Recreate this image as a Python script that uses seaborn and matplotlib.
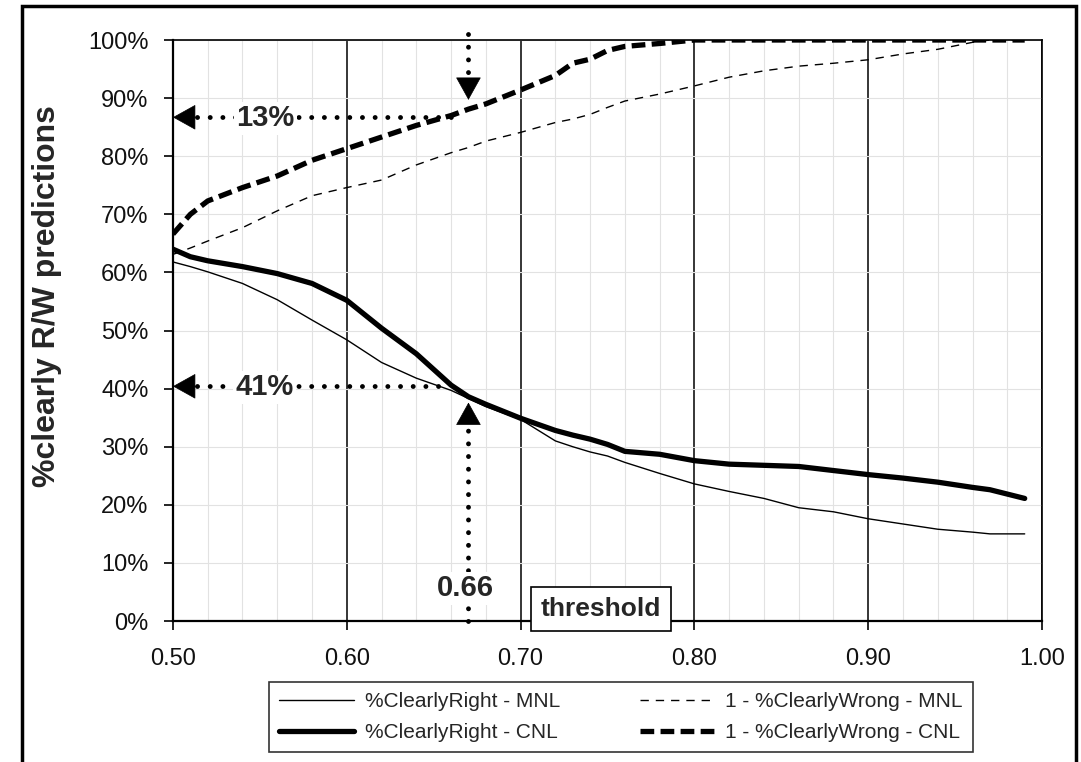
import numpy as np
import pandas as pd
import seaborn as sns
from matplotlib import pyplot as plt
from matplotlib.patches import Rectangle
from matplotlib.ticker import PercentFormatter, FormatStrFormatter

# ----- data -----
thresholds = [0.50, 0.51, 0.52, 0.54, 0.56, 0.58, 0.60, 0.62, 0.64, 0.66,
              0.67, 0.68, 0.70, 0.72, 0.73, 0.74, 0.75, 0.76, 0.78, 0.80,
              0.82, 0.84, 0.86, 0.88, 0.90, 0.92, 0.94, 0.96, 0.97, 0.99]

right_mnl = [61.8, 61.0, 60.1, 58.1, 55.3, 51.8, 48.4, 44.5, 41.8, 39.7,
             38.3, 36.9, 34.7, 31.0, 30.0, 29.1, 28.4, 27.3, 25.4, 23.6,
             22.3, 21.1, 19.5, 18.8, 17.6, 16.7, 15.8, 15.3, 15.0, 15.0]

right_cnl = [64.0, 62.7, 62.0, 61.0, 59.8, 58.1, 55.2, 50.4, 46.0, 40.6,
             38.6, 37.3, 34.9, 32.8, 32.0, 31.3, 30.4, 29.2, 28.7, 27.6,
             27.0, 26.8, 26.6, 25.9, 25.2, 24.6, 23.9, 23.0, 22.6, 21.1]

wrong_mnl = [63.1, 64.2, 65.4, 67.7, 70.6, 73.2, 74.6, 75.9, 78.5, 80.6,
             81.5, 82.6, 84.1, 85.8, 86.4, 87.2, 88.4, 89.5, 90.7, 92.1,
             93.6, 94.7, 95.5, 96.0, 96.6, 97.6, 98.4, 99.6, 100.0, 100.0]

wrong_cnl = [66.6, 70.0, 72.3, 74.6, 76.6, 79.3, 81.3, 83.3, 85.3, 87.0,
             88.1, 89.0, 91.4, 93.9, 96.0, 96.7, 98.2, 98.9, 99.4, 100.0,
             100.0, 100.0, 100.0, 100.0, 100.0, 100.0, 100.0, 100.0, 100.0, 100.0]

labels = ['%ClearlyRight - MNL', '1 - %ClearlyWrong - MNL',
          '%ClearlyRight - CNL', '1 - %ClearlyWrong - CNL']

df = pd.DataFrame({'thr': thresholds, 'rm': right_mnl, 'rc': right_cnl,
                   'wm': wrong_mnl, 'wc': wrong_cnl})

# ----- style -----
sns.set_style('white')
plt.rcParams['font.family'] = ['Liberation Sans', 'DejaVu Sans']

fig = plt.figure(figsize=(10.81, 7.62), dpi=100)
ax = fig.add_axes([0.160, 0.185, 0.804, 0.7625])

# outer frame of the chart
fig.add_artist(Rectangle((0.0204, -0.1), 0.975, 1.092, transform=fig.transFigure,
                         fill=False, lw=2.5, ec='black'))

# ----- lines -----
sns.lineplot(data=df, x='thr', y='rm', ax=ax, color='black', lw=1.0, label=labels[0])
sns.lineplot(data=df, x='thr', y='rc', ax=ax, color='black', lw=3.8, label=labels[2])
sns.lineplot(data=df, x='thr', y='wm', ax=ax, color='black', lw=1.0,
             linestyle=(0, (6, 5)), label=labels[1])
sns.lineplot(data=df, x='thr', y='wc', ax=ax, color='black', lw=3.8,
             linestyle=(0, (2.6, 1.2)), label=labels[3])

ax.set_xlim(0.5, 1.0)
ax.set_ylim(0, 100)
ax.set_xticks(np.arange(0.5, 1.001, 0.1))
ax.set_xticks(np.arange(0.5, 1.001, 0.02), minor=True)
ax.set_yticks(np.arange(0, 101, 10))
ax.xaxis.set_major_formatter(FormatStrFormatter('%.2f'))
ax.yaxis.set_major_formatter(PercentFormatter(100, decimals=0))

ax.grid(which='minor', axis='x', color='#e2e2e2', lw=0.8)
ax.grid(which='major', axis='y', color='#e2e2e2', lw=0.8)
ax.grid(which='major', axis='x', color='black', lw=1.1)
ax.set_axisbelow(True)

for side in ['left', 'bottom']:
    ax.spines[side].set_linewidth(1.6)
for side in ['top', 'right']:
    ax.spines[side].set_linewidth(1.2)
for s in ax.spines.values():
    s.set_color('black')

ax.tick_params(axis='both', which='major', direction='out', length=6.5, width=1.2,
               labelsize=17, color='black', labelcolor='#111111')
ax.tick_params(axis='x', which='major', pad=13, bottom=True)
ax.tick_params(axis='y', which='major', pad=11, left=True)
ax.tick_params(axis='x', which='minor', length=0)

ax.set_xlabel('')
ax.set_ylabel('%clearly R/W predictions', fontsize=23, fontweight='bold')
ax.yaxis.set_label_coords(-0.128, 0.56)

# ----- annotations -----
dot = dict(color='black', lw=3.5, linestyle=(0, (0.01, 2.6)),
           dash_capstyle='round', zorder=5)
head = dict(arrowstyle='-|>,head_length=0.9,head_width=0.5', fc='black', ec='black',
            lw=0.5, shrinkA=0, shrinkB=0, mutation_scale=17)

ax.plot([0.514, 0.662], [86.7, 86.7], **dot)
ax.annotate('', xy=(0.5, 86.7), xytext=(0.514, 86.7), arrowprops=head, zorder=6)
ax.plot([0.514, 0.657], [40.4, 40.4], **dot)
ax.annotate('', xy=(0.5, 40.4), xytext=(0.514, 40.4), arrowprops=head, zorder=6)
ax.plot([0.67, 0.67], [101.0, 92.5], clip_on=False, **dot)
ax.annotate('', xy=(0.67, 89.7), xytext=(0.67, 93.0), arrowprops=head, zorder=6,
            annotation_clip=False)
ax.plot([0.67, 0.67], [0.0, 34.0], clip_on=False, **dot)
ax.annotate('', xy=(0.67, 37.6), xytext=(0.67, 34.0), arrowprops=head, zorder=6)

wbox = dict(boxstyle='square,pad=0.08', fc='white', ec='none')
ax.text(0.553, 86.5, '13%', fontsize=21, fontweight='bold', ha='center', va='center',
        bbox=wbox, zorder=7)
ax.text(0.5525, 40.2, '41%', fontsize=21, fontweight='bold', ha='center', va='center',
        bbox=wbox, zorder=7)
ax.text(0.668, 5.6, '0.66', fontsize=21, fontweight='bold', ha='center', va='center',
        bbox=wbox, zorder=7)
ax.text(0.7463, 2.0, 'threshold', fontsize=19, fontweight='bold', ha='center', va='center',
        bbox=dict(boxstyle='square,pad=0.38', fc='white', ec='black', lw=1.2),
        zorder=8, clip_on=False)

# ----- legend -----
handles, labs = ax.get_legend_handles_labels()
ax.get_legend().remove()
order = [labs.index(l) for l in [labels[0], labels[2], labels[1], labels[3]]]
leg = fig.legend([handles[i] for i in order], [labs[i] for i in order],
                 loc='upper left', bbox_to_anchor=(269 / 1081, 1 - 682 / 762, 704 / 1081, 0),
                 mode='expand', ncol=2, frameon=True, fancybox=False, edgecolor='black',
                 fontsize=15, handlelength=3.6, handletextpad=0.5, labelspacing=0.55,
                 borderpad=0.5, borderaxespad=0)
leg.get_frame().set_linewidth(1.2)

plt.savefig('out.png', dpi=100)
